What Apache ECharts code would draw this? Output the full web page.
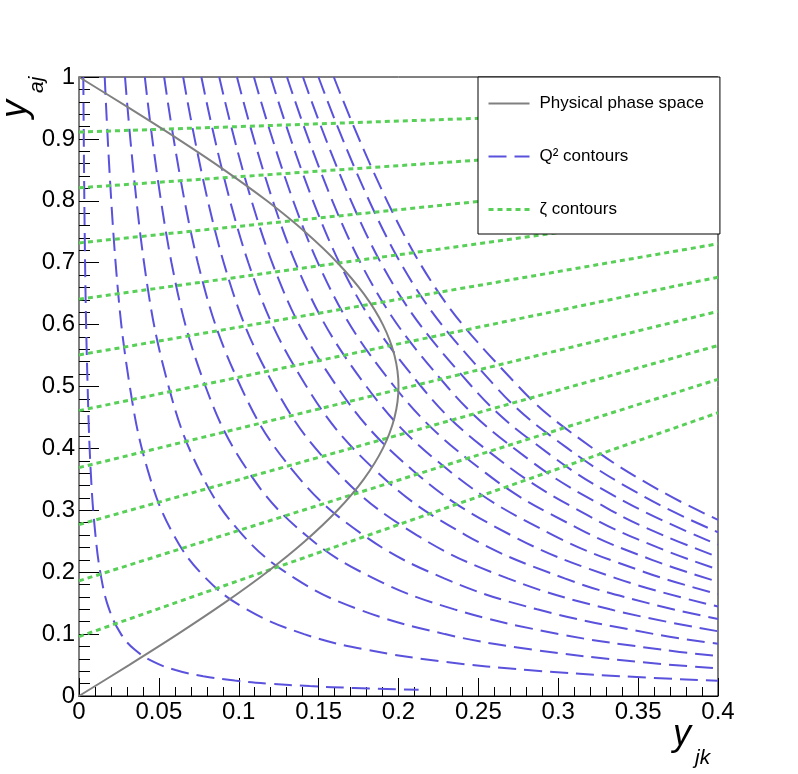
<!DOCTYPE html>
<html>
<head>
<meta charset="utf-8">
<script src="https://cdn.jsdelivr.net/npm/echarts@6/dist/echarts.min.js"></script>
<style>
    html, body { margin: 0; padding: 0; background: #fff; }
    #chart { width: 798px; height: 774px; }
</style>
</head>
<body>
<div id="chart"></div>
<script>
let chart = echarts.init(document.getElementById('chart'));

// tick labels
let x_ticks = ['0', '0.05', '0.1', '0.15', '0.2', '0.25', '0.3', '0.35', '0.4'];
let y_ticks = ['0', '0.1', '0.2', '0.3', '0.4', '0.5', '0.6', '0.7', '0.8', '0.9', '1'];

// physical phase space boundary [y_jk, y_aj]
let phase_space = [
    [0, 0], [0.0313, 0.05], [0.0618, 0.1], [0.0908, 0.15], [0.1176, 0.2], [0.1414, 0.25],
    [0.1618, 0.3], [0.1782, 0.35], [0.1902, 0.4], [0.1975, 0.45], [0.2, 0.5],
    [0.1975, 0.55], [0.1902, 0.6], [0.1782, 0.65], [0.1618, 0.7], [0.1414, 0.75],
    [0.1176, 0.8], [0.0908, 0.85], [0.0618, 0.9], [0.0313, 0.95], [0, 1]
];

// Q^2 contours
let q2_contours = [
    [[0.0027, 1], [0.0038, 0.7], [0.0054, 0.5], [0.0074, 0.36], [0.0103, 0.26], [0.014, 0.19], [0.0189, 0.14], [0.0263, 0.1], [0.0348, 0.075], [0.0468, 0.055], [0.0604, 0.042], [0.0778, 0.032], [0.0975, 0.025], [0.1189, 0.02], [0.1444, 0.016], [0.172, 0.013], [0.2126, 0.01]],
    [[0.0161, 1], [0.0229, 0.7], [0.0318, 0.5], [0.0436, 0.36], [0.0593, 0.26], [0.0795, 0.19], [0.1049, 0.14], [0.1409, 0.1], [0.1794, 0.075], [0.2297, 0.055], [0.2808, 0.042], [0.3388, 0.032], [0.4, 0.0246]],
    [[0.0288, 1], [0.0407, 0.7], [0.0561, 0.5], [0.0762, 0.36], [0.1025, 0.26], [0.1352, 0.19], [0.175, 0.14], [0.229, 0.1], [0.2837, 0.075], [0.3507, 0.055], [0.4, 0.0446]],
    [[0.0412, 1], [0.0579, 0.7], [0.0792, 0.5], [0.1067, 0.36], [0.1419, 0.26], [0.1845, 0.19], [0.235, 0.14], [0.3007, 0.1], [0.3644, 0.075], [0.4, 0.0645]],
    [[0.0533, 1], [0.0744, 0.7], [0.1012, 0.5], [0.1352, 0.36], [0.178, 0.26], [0.2286, 0.19], [0.2868, 0.14], [0.3602, 0.1], [0.4, 0.0845]],
    [[0.0652, 1], [0.0906, 0.7], [0.1223, 0.5], [0.1622, 0.36], [0.2114, 0.26], [0.2684, 0.19], [0.3324, 0.14], [0.4, 0.1046]],
    [[0.0766, 1], [0.106, 0.7], [0.1424, 0.5], [0.1874, 0.36], [0.242, 0.26], [0.304, 0.19], [0.3562, 0.15], [0.4, 0.1245]],
    [[0.0878, 1], [0.1209, 0.7], [0.1615, 0.5], [0.211, 0.36], [0.2703, 0.26], [0.3364, 0.19], [0.4, 0.1445]],
    [[0.0989, 1], [0.1355, 0.7], [0.1799, 0.5], [0.2336, 0.36], [0.2967, 0.26], [0.3542, 0.2], [0.4, 0.1646]],
    [[0.1095, 1], [0.1495, 0.7], [0.1974, 0.5], [0.2547, 0.36], [0.313, 0.27], [0.3586, 0.22], [0.4, 0.1845]],
    [[0.12, 1], [0.163, 0.7], [0.2142, 0.5], [0.264, 0.38], [0.3197, 0.29], [0.3622, 0.24], [0.4, 0.2045]],
    [[0.1302, 1], [0.1762, 0.7], [0.2304, 0.5], [0.2826, 0.38], [0.3329, 0.3], [0.3654, 0.26], [0.4, 0.2246]],
    [[0.1402, 1], [0.1889, 0.7], [0.2459, 0.5], [0.2948, 0.39], [0.3446, 0.31], [0.4, 0.2445]],
    [[0.1499, 1], [0.2012, 0.7], [0.2607, 0.5], [0.3059, 0.4], [0.3552, 0.32], [0.4, 0.2645]],
    [[0.1595, 1], [0.2132, 0.7], [0.2751, 0.5], [0.3217, 0.4], [0.365, 0.33], [0.4, 0.2846]]
];

// zeta contours: straight lines, start (x=0) and end (x=0.4)
let zeta_contours = [
    [[0, 0.911], [0.4, 0.9466]],
    [[0, 0.821], [0.4, 0.8926]],
    [[0, 0.732], [0.4, 0.8392]],
    [[0, 0.641], [0.4, 0.7846]],
    [[0, 0.551], [0.4, 0.7306]],
    [[0, 0.461], [0.4, 0.6766]],
    [[0, 0.369], [0.4, 0.6214]],
    [[0, 0.277], [0.4, 0.5662]],
    [[0, 0.186], [0.4, 0.5116]],
    [[0, 0.096], [0.4, 0.4576]]
];

let font = "'Liberation Sans', Arial, Helvetica, sans-serif";
let gray = '#808080';
let blue = '#5a52dc';
let green = '#58d058';

let series_list = [];
q2_contours.forEach(pts => {
    series_list.push({
        name: 'Q² contours',
        type: 'line',
        data: pts,
        symbol: 'none',
        smooth: 0.4,
        silent: true,
        lineStyle: {color: blue, width: 2, type: [18, 8]},
        itemStyle: {color: blue},
        z: 2
    });
});
zeta_contours.forEach(pts => {
    series_list.push({
        name: 'ζ contours',
        type: 'line',
        data: pts,
        symbol: 'none',
        silent: true,
        lineStyle: {color: green, width: 3, type: [5, 4]},
        itemStyle: {color: green},
        z: 3
    });
});
series_list.push({
    name: 'Physical phase space',
    type: 'line',
    data: phase_space,
    symbol: 'none',
    smooth: 0.3,
    silent: true,
    lineStyle: {color: gray, width: 2},
    itemStyle: {color: gray},
    z: 4
});

let option = {
    animation: false,
    grid: {
        left: 79,
        top: 77,
        width: 639,
        height: 619,
        containLabel: false,
        outerBoundsMode: 'none',
        show: true,
        borderColor: '#000',
        borderWidth: 1
    },
    xAxis: {
        type: 'value',
        min: 0,
        max: 0.4,
        interval: 0.05,
        axisLine: {show: true, lineStyle: {color: '#000', width: 1}},
        axisTick: {show: true, inside: true, length: 18, lineStyle: {color: '#000'}},
        minorTick: {show: true, splitNumber: 5, length: 9, lineStyle: {color: '#000'}},
        splitLine: {show: false},
        axisLabel: {
            margin: 4,
            fontSize: 24,
            fontFamily: font,
            color: '#000',
            formatter: v => x_ticks[Math.round(v / 0.05)]
        }
    },
    yAxis: {
        type: 'value',
        min: 0,
        max: 1,
        interval: 0.1,
        axisLine: {show: true, lineStyle: {color: gray, width: 2}},
        axisTick: {show: true, inside: true, length: 20, lineStyle: {color: '#000'}},
        minorTick: {show: true, splitNumber: 5, length: 11, lineStyle: {color: '#000'}},
        splitLine: {show: false},
        axisLabel: {
            margin: 4,
            fontSize: 24,
            fontFamily: font,
            color: '#000',
            formatter: v => y_ticks[Math.round(v / 0.1)]
        }
    },
    legend: {
        data: [
            {name: 'Physical phase space', lineStyle: {width: 2}},
            {name: 'Q² contours', lineStyle: {width: 2}},
            {name: 'ζ contours', lineStyle: {width: 3}}
        ],
        orient: 'vertical',
        left: 478,
        top: 77,
        padding: [18, 16, 16, 9],
        itemGap: 36,
        itemWidth: 41,
        itemHeight: 14,
        selectedMode: false,
        itemStyle: {opacity: 0, borderWidth: 0},
        backgroundColor: '#fff',
        borderColor: '#000',
        borderWidth: 1,
        borderRadius: 0,
        textStyle: {fontSize: 17, fontFamily: font, color: '#000', lineHeight: 14, padding: [0, 0, 0, 5]}
    },
    graphic: [
        {type: 'text', x: 673, y: 735, z: 10,
            style: {text: 'y', fontSize: 36, fontStyle: 'italic', fontFamily: font, fill: '#000',
                align: 'left', verticalAlign: 'middle', textAlign: 'left', textVerticalAlign: 'middle'}},
        {type: 'text', x: 695, y: 758, z: 10,
            style: {text: 'jk', fontSize: 21, fontStyle: 'italic', fontFamily: font, fill: '#000',
                align: 'left', verticalAlign: 'middle', textAlign: 'left', textVerticalAlign: 'middle'}},
        {type: 'text', x: 16, y: 118, rotation: Math.PI / 2, z: 10,
            style: {text: 'y', fontSize: 36, fontStyle: 'italic', fontFamily: font, fill: '#000',
                align: 'left', verticalAlign: 'middle', textAlign: 'left', textVerticalAlign: 'middle'}},
        {type: 'text', x: 37, y: 93, rotation: Math.PI / 2, z: 10,
            style: {text: 'aj', fontSize: 21, fontStyle: 'italic', fontFamily: font, fill: '#000',
                align: 'left', verticalAlign: 'middle', textAlign: 'left', textVerticalAlign: 'middle'}}
    ],
    series: series_list
};

chart.setOption(option);
</script>
</body>
</html>
